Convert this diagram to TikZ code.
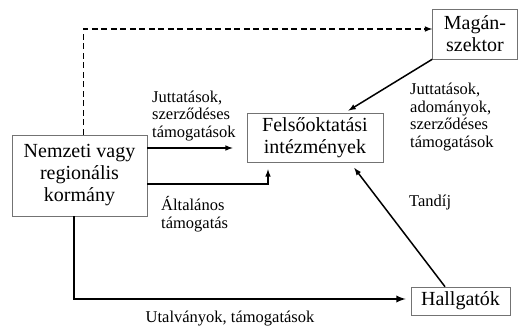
\documentclass[tikz,border=0pt]{standalone}
\usepackage{fontspec}
\setmainfont{Liberation Serif}
\usetikzlibrary{arrows.meta,calc,positioning}
\definecolor{boxgray}{rgb}{0.45,0.45,0.45}

\begin{document}
\begin{tikzpicture}[x=1pt,y=-1pt,
    actor/.style={draw=boxgray,line width=0.6pt,fill=white,align=center,inner sep=0,
      font=\fontsize{20}{22}\selectfont},
    flow/.style={line width=1.5pt,-latex},
    lbl/.style={align=left,inner sep=0,font=\fontsize{16.5}{17.8}\selectfont}]
      \useasboundingbox (0,0) rectangle (519,328);
      % the four actors
      \node[actor,minimum width=135pt,minimum height=81pt] (nem) at (79.5,175.5) {Nemzeti vagy\\regionális\\kormány};
      \node[actor,minimum width=136pt,minimum height=49pt] (fel) at (315,137.5) {Felsőoktatási\\intézmények};
      \node[actor,minimum width=85pt,minimum height=50pt] (mag) at (475,34) {Magán-\\szektor};
      \node[actor,minimum width=99pt,minimum height=28pt] (hal) at (460.5,301) {Hallgatók};
      % the flows
      \draw[flow,dash pattern=on 6pt off 3.5pt] ([xshift=4pt]nem.north) |- ([yshift=5pt]mag.west);
      \draw[flow] ([yshift=27.5pt]nem.east) -- ([yshift=-10.5pt]fel.west) [shorten >=14pt];
      \draw[flow] ([yshift=-8.5pt]nem.east) -| ([xshift=-47pt]fel.south) [shorten >=7pt];
      \draw[flow] (mag.south west) -- ([xshift=30pt]fel.north) [shorten >=4pt];
      \draw[flow] ([xshift=-15.5pt]hal.north) -- ([xshift=35pt]fel.south) [shorten >=7pt];
      \draw[flow,line width=2.2pt] ([xshift=-5.5pt]nem.south) |- ([yshift=2pt]hal.west) [shorten >=5pt];
      % label the flows
      \node[lbl,anchor=west] (juttat) at (152,116) {Juttatások,\\szerződéses\\támogatások};
      \node[lbl,anchor=west] (altal) at (161,214) {Általános\\támogatás};
      \node[lbl,anchor=west] (adom) at (410,117) {Juttatások,\\adományok,\\szerződéses\\támogatások};
      \node[lbl,anchor=west] (tandij) at (409,203) {Tandíj};
      \node[lbl] (utalv) at (230,319) {Utalványok, támogatások};
\end{tikzpicture}
\end{document}
